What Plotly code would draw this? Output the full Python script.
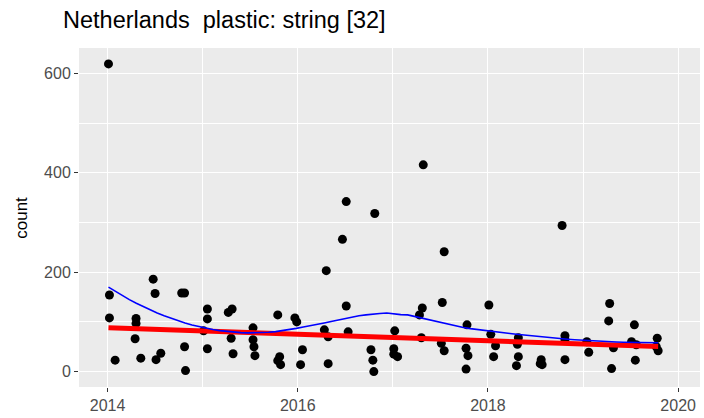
import numpy as np
import plotly.graph_objects as go

# Observations: survey date (decimal year) and item count
year = [2014.01, 2014.02, 2014.02, 2014.08, 2014.48, 2014.50, 2014.30, 2014.30, 2014.29, 2014.35,
        2014.51, 2014.56, 2014.78, 2014.81, 2014.81, 2014.82, 2015.05, 2015.05, 2015.01, 2015.05,
        2015.27, 2015.31, 2015.30, 2015.32, 2015.53, 2015.53, 2015.54, 2015.55, 2015.79, 2015.97,
        2015.99, 2015.81, 2015.79, 2015.82, 2016.05, 2016.03, 2016.28, 2016.32, 2016.32, 2016.51,
        2016.53, 2016.30, 2016.47, 2016.51, 2016.81, 2017.32, 2017.54, 2016.77, 2016.79, 2016.80,
        2017.02, 2017.01, 2017.01, 2017.05, 2017.28, 2017.31, 2017.52, 2017.30, 2017.51, 2017.54,
        2017.78, 2017.77, 2017.79, 2017.77, 2018.01, 2018.03, 2018.08, 2018.06, 2018.32, 2018.31,
        2018.32, 2018.30, 2018.56, 2018.55, 2018.57, 2018.81, 2018.81, 2018.81, 2018.78, 2019.04,
        2019.06, 2019.28, 2019.27, 2019.32, 2019.30, 2019.54, 2019.51, 2019.56, 2019.55, 2019.78,
        2019.77, 2019.79]
count = [619, 154, 108, 23, 186, 157, 107, 97, 66, 27,
         24, 37, 158, 158, 50, 2, 126, 106, 82, 46,
         119, 126, 67, 36, 88, 64, 50, 32, 114, 108,
         100, 30, 22, 14, 44, 14, 84, 70, 16, 132,
         80, 203, 266, 342, 318, 416, 241, 44, 23, 0,
         82, 46, 35, 30, 114, 128, 139, 68, 57, 42,
         94, 47, 32, 5, 134, 75, 52, 30, 68, 55,
         30, 12, 24, 16, 14, 72, 64, 24, 294, 60,
         39, 137, 102, 48, 6, 94, 60, 54, 23, 67,
         50, 42]

x_ticks = [2014, 2016, 2018, 2020]
y_ticks = [0, 200, 400, 600]

x = np.array(year)
y = np.array(count, dtype=float)


def loess(xs, ys, grid, span=0.75):
    """Local quadratic regression with tricube weights."""
    n = len(xs)
    q = int(np.floor(n * span))
    out = []
    for x0 in grid:
        d = np.abs(xs - x0)
        h = np.sort(d)[q - 1]
        w = np.clip(1 - (d / h) ** 3, 0, None) ** 3
        X = np.vstack([np.ones(n), xs - x0, (xs - x0) ** 2]).T
        W = np.diag(w)
        beta = np.linalg.solve(X.T @ W @ X, X.T @ W @ ys)
        out.append(beta[0])
    return np.array(out)


def theil_sen(xs, ys):
    """Median of pairwise slopes, intercept from median residual."""
    i, j = np.triu_indices(len(xs), k=1)
    dx = xs[j] - xs[i]
    ok = dx != 0
    slope = np.median((ys[j] - ys[i])[ok] / dx[ok])
    intercept = np.median(ys - slope * xs)
    return slope, intercept


grid = np.linspace(x.min(), x.max(), 80)
smooth = loess(x, y, grid)
slope, intercept = theil_sen(x, y)
trend = intercept + slope * grid

fig = go.Figure()
fig.add_trace(go.Scatter(x=x, y=y, mode="markers",
                         marker=dict(color="black", size=9, line=dict(width=0))))
fig.add_trace(go.Scatter(x=grid, y=trend, mode="lines",
                         line=dict(color="#FF0000", width=5)))
fig.add_trace(go.Scatter(x=grid, y=smooth, mode="lines",
                         line=dict(color="#0000FF", width=1.6)))

axis_common = dict(showline=False, zeroline=False, gridcolor="white", gridwidth=1.1,
                   ticks="outside", ticklen=4, tickwidth=1, tickcolor="#333333",
                   tickfont=dict(family="Liberation Sans, Arial", size=16, color="#4D4D4D"),
                   minor=dict(showgrid=True, gridcolor="white", gridwidth=0.55, ticks=""))

fig.update_xaxes(range=[2013.70, 2020.23], tickvals=x_ticks,
                 ticktext=[str(v) for v in x_ticks],
                 minor_tickvals=[2015, 2017, 2019], **axis_common)
fig.update_yaxes(range=[-31, 651], tickvals=y_ticks,
                 ticktext=[str(v) for v in y_ticks],
                 minor_tickvals=[100, 300, 500], **axis_common)

fig.update_layout(
    width=704, height=418,
    margin=dict(l=79, r=4, t=48, b=29),
    plot_bgcolor="#EBEBEB", paper_bgcolor="white",
    showlegend=False,
    title=dict(text="Netherlands  plastic: string [32]", xref="container", yref="container",
               x=63 / 704, xanchor="left", y=1 - 20 / 418, yanchor="middle",
               font=dict(family="Liberation Sans, Arial", size=23.5, color="black")),
    annotations=[dict(text="count", xref="paper", yref="paper", x=-0.093, y=0.5,
                      xanchor="center", yanchor="middle", textangle=-90, showarrow=False,
                      font=dict(family="Liberation Sans, Arial", size=17, color="black"))],
)

fig.write_html("out.html")
